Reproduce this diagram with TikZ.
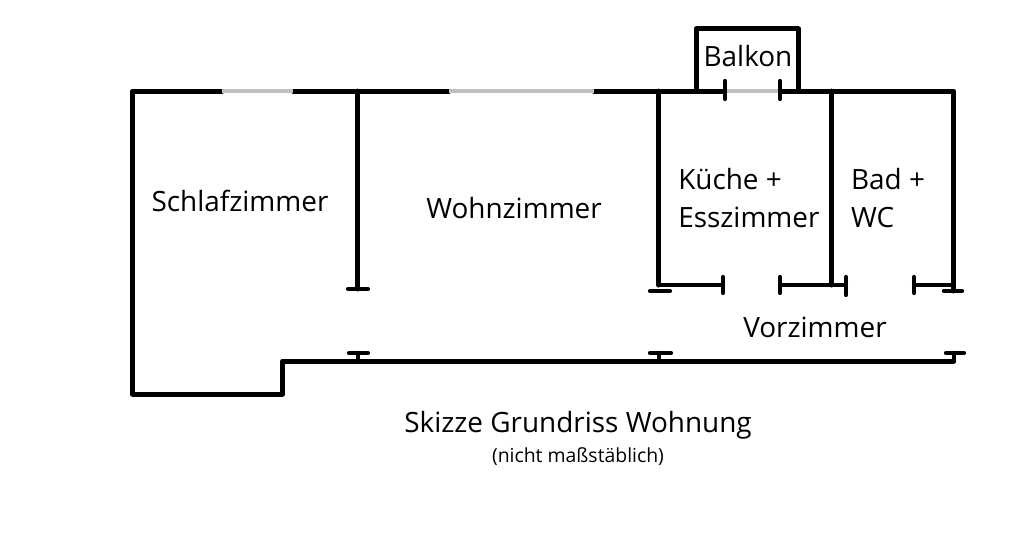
\documentclass[tikz,border=0pt]{standalone}
\usepackage{fontspec}
\setmainfont{Open Sans}
\tikzset{
	wall/.style={line width=1.25mm, line cap=round, line join=round},
	thinwall/.style={line width=1.05mm, line cap=round},
	opening/.style={line width=1.1mm, color=black!25},
	roomlabel/.style={font=\fontsize{19.85}{27.5}\selectfont, inner sep=0pt, align=left},
	smalllabel/.style={font=\fontsize{13.8}{16}\selectfont, inner sep=0pt}
}

\begin{document}
\begin{tikzpicture}
	\useasboundingbox (0, 0) rectangle (25.6, 13.525);
	%%%%% outer walls %%%%%
	\draw[wall] (5.55, 11.25) -- (3.315, 11.25) -- (3.315, 3.675) -- (7.065, 3.675) -- (7.065, 4.5) -- (23.84, 4.5);
	\draw[wall] (7.325, 11.25) -- (11.225, 11.25);
	\draw[wall] (14.85, 11.25) -- (18.125, 11.25);
	\draw[wall] (19.5, 11.25) -- (23.84, 11.25) -- (23.84, 6.25);
	
	%%%%% windows %%%%%
	\draw[opening] (5.55, 11.25) -- (7.325, 11.25);
	\draw[opening] (11.225, 11.25) -- (14.85, 11.25);
	\draw[opening, line width=0.8mm] (18.125, 11.25) -- (19.5, 11.25);
	
	%%%%% balcony %%%%%
	\draw[wall] (17.4, 11.25) -- (17.4, 12.8) -- (19.965, 12.8) -- (19.965, 11.25);
	\draw[thinwall] (18.125, 11.05) -- (18.125, 11.5);
	\draw[thinwall] (19.5, 11.05) -- (19.5, 11.5);
	
	%%%%% inner walls %%%%%
	\draw[wall] (8.94, 11.25) -- (8.94, 6.3);
	\draw[thinwall] (8.7, 6.3) -- (9.2, 6.3);
	\draw[thinwall] (8.94, 4.5) -- (8.94, 4.7);
	\draw[thinwall] (8.725, 4.7) -- (9.2, 4.7);
	
	\draw[wall] (16.465, 11.25) -- (16.465, 6.4);
	\draw[thinwall] (16.25, 6.25) -- (16.75, 6.25);
	\draw[thinwall] (16.465, 4.5) -- (16.465, 4.7);
	\draw[thinwall] (16.25, 4.7) -- (16.775, 4.7);
	
	\draw[wall] (20.79, 11.25) -- (20.79, 6.4);
	\draw[thinwall] (16.465, 6.4) -- (18.075, 6.4);
	\draw[thinwall] (18.075, 6.2) -- (18.075, 6.6);
	\draw[thinwall] (19.5, 6.4) -- (21.15, 6.4);
	\draw[thinwall] (19.5, 6.2) -- (19.5, 6.6);
	\draw[thinwall] (21.15, 6.15) -- (21.15, 6.6);
	\draw[thinwall] (22.85, 6.4) -- (23.84, 6.4);
	\draw[thinwall] (22.85, 6.2) -- (22.85, 6.6);
	\draw[thinwall] (23.6, 6.25) -- (24.05, 6.25);
	\draw[thinwall] (23.84, 4.5) -- (23.84, 4.7);
	\draw[thinwall] (23.65, 4.7) -- (24.1, 4.7);
	
	%%%%% labels %%%%%
	\node[roomlabel] (balkon) at (18.7, 12.125) {Balkon};
	\node[roomlabel] (schlafzimmer) at (6.0, 8.5) {Schlafzimmer};
	\node[roomlabel] (wohnzimmer) at (12.85, 8.325) {Wohnzimmer};
	\node[roomlabel, anchor=west] (kueche) at (16.95, 8.57) {Küche +\\Esszimmer};
	\node[roomlabel, anchor=west] (bad) at (21.27, 8.57) {Bad +\\WC};
	\node[roomlabel] (vorzimmer) at (20.375, 5.345) {Vorzimmer};
	\node[roomlabel] (titel) at (14.45, 2.9) {Skizze Grundriss Wohnung};
	\node[smalllabel] (untertitel) at (14.45, 2.1) {(nicht maßstäblich)};
\end{tikzpicture}
\end{document}
